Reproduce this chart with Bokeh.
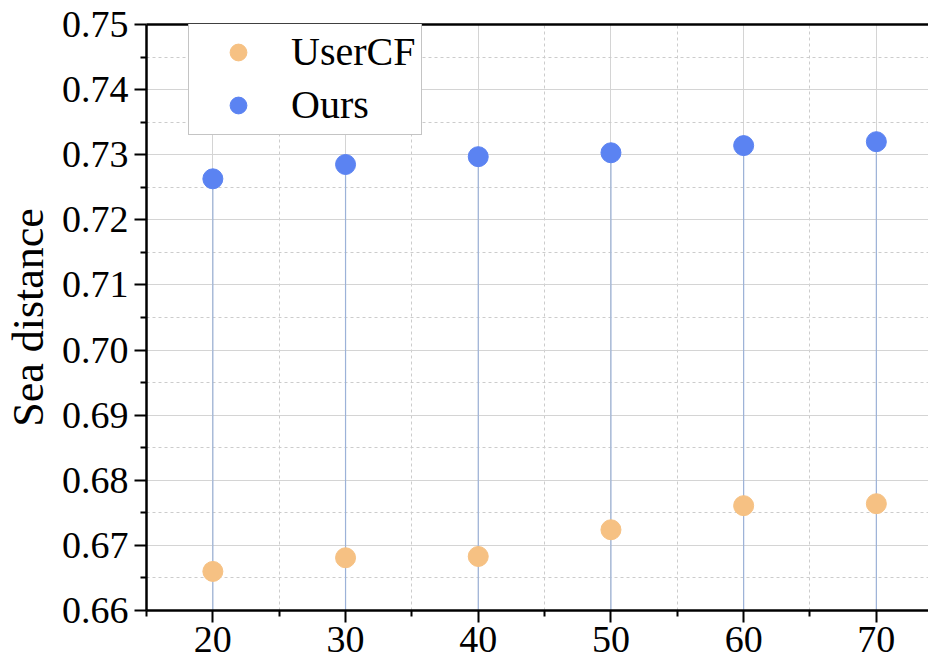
from bokeh.plotting import figure
from bokeh.models import (FixedTicker, Range1d, LinearAxis, Legend, LegendItem,
                          ColumnDataSource, CustomJSTickFormatter)
from bokeh.embed import file_html
from bokeh.resources import INLINE

x_values = [20, 30, 40, 50, 60, 70]
usercf = [0.6660, 0.6681, 0.6683, 0.6724, 0.6761, 0.6764]
ours = [0.7263, 0.7285, 0.7297, 0.7303, 0.7314, 0.7320]
y_ticks = [0.66, 0.67, 0.68, 0.69, 0.70, 0.71, 0.72, 0.73, 0.74, 0.75]
y_minor = [0.665, 0.675, 0.685, 0.695, 0.705, 0.715, 0.725, 0.735, 0.745]
x_minor = [15, 25, 35, 45, 55, 65, 75]
y_label = "Sea distance"
series_names = ["UserCF", "Ours"]

FONT = "Liberation Serif"

p = figure(width=928, height=661, output_backend="svg", toolbar_location=None,
           x_range=Range1d(15, 73.93), y_range=Range1d(0.66, 0.75),
           min_border_left=146, min_border_top=24, min_border_right=0, min_border_bottom=51)
p.outline_line_color = None

p.xaxis.ticker = FixedTicker(ticks=x_values, minor_ticks=x_minor)
p.yaxis.ticker = FixedTicker(ticks=y_ticks, minor_ticks=y_minor)
p.yaxis.formatter = CustomJSTickFormatter(code="return tick.toFixed(2);")

for ax in (p.xaxis, p.yaxis):
    ax.axis_line_width = 2.5
    ax.axis_line_color = "black"
    ax.major_tick_line_width = 2
    ax.minor_tick_line_width = 2
    ax.major_tick_out = 12
    ax.major_tick_in = 0
    ax.minor_tick_out = 6
    ax.minor_tick_in = 0
    ax.major_label_text_font = FONT
    ax.major_label_text_font_size = "38px"
    ax.major_label_text_color = "black"

p.yaxis.axis_label = y_label
p.yaxis.axis_label_text_font = FONT
p.yaxis.axis_label_text_font_size = "44px"
p.yaxis.axis_label_text_font_style = "normal"
p.yaxis.axis_label_text_color = "black"
p.yaxis.axis_label_standoff = 6
p.yaxis.major_label_standoff = 6
p.xaxis.major_label_standoff = 4

top_axis = LinearAxis(major_tick_line_color=None, minor_tick_line_color=None,
                      major_label_text_font_size="0px", axis_line_width=2.5,
                      axis_line_color="black")
top_axis.ticker = FixedTicker(ticks=[])
p.add_layout(top_axis, "above")

p.xgrid.grid_line_color = "#d4d4d4"
p.ygrid.grid_line_color = "#d4d4d4"
p.xgrid.grid_line_width = 1
p.ygrid.grid_line_width = 1
p.xgrid.minor_grid_line_color = "#cccccc"
p.ygrid.minor_grid_line_color = "#cccccc"
p.xgrid.minor_grid_line_dash = "3 3"
p.ygrid.minor_grid_line_dash = "3 3"

src = ColumnDataSource(dict(x=x_values, u=usercf, o=ours, base=[0.66] * len(x_values)))
p.segment(x0="x", y0="base", x1="x", y1="o", source=src, line_color="#9cb2d8", line_width=1.2)

r1 = p.scatter("x", "u", source=src, size=20, fill_color="#f6c183", line_color="#f6c183")
r2 = p.scatter("x", "o", source=src, size=20, fill_color="#5b83f2", line_color="#5b83f2")

legend = Legend(items=[LegendItem(label=series_names[0], renderers=[r1]),
                       LegendItem(label=series_names[1], renderers=[r2])],
                location=(42, 475))
legend.label_text_font = FONT
legend.label_text_font_size = "40px"
legend.label_text_color = "black"
legend.border_line_color = "#8a8a8a"
legend.border_line_width = 1.5
legend.background_fill_alpha = 1
legend.padding = 6
legend.margin = 0
legend.spacing = 6
legend.glyph_width = 86
legend.glyph_height = 42
legend.label_height = 42
legend.label_standoff = 10
p.add_layout(legend, "center")

open("out.html", "w").write(file_html(p, INLINE))
